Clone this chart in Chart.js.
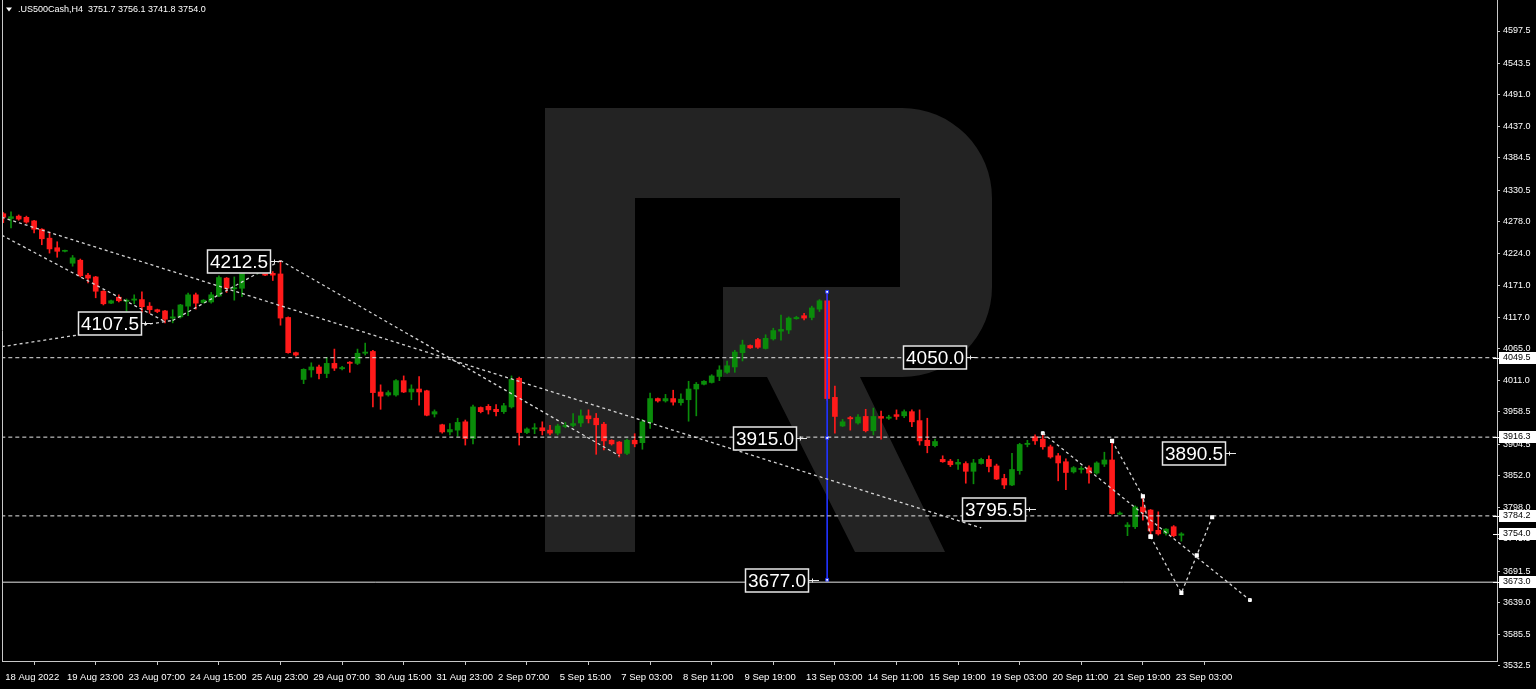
<!DOCTYPE html>
<html>
<head>
<meta charset="utf-8">
<title>.US500Cash,H4</title>
<script src="https://cdn.jsdelivr.net/npm/chart.js@4.4.0/dist/chart.umd.min.js"></script>
<style>
  html, body { margin: 0; padding: 0; background: #000; }
  #wrap { width: 1536px; height: 689px; }
  canvas { display: block; }
</style>
</head>
<body>
<div id="wrap"><canvas id="chart" width="1536" height="689"></canvas></div>
<script>
const headerText = '.US500Cash,H4  3751.7 3756.1 3741.8 3754.0';

// H4 candles, 18 Aug 2022 .. 23 Sep 2022
const opens = [
  4291, 4283, 4287, 4285, 4279, 4265, 4250, 4234, 4228, 4208,
  4213, 4188, 4185, 4161, 4141, 4151, 4144, 4146, 4147, 4136,
  4130, 4128, 4116, 4118, 4136, 4155, 4142, 4143, 4153, 4183,
  4165, 4166, 4201, 4193, 4198, 4191, 4190, 4117, 4058, 4013,
  4029, 4034, 4023, 4040, 4031, 4042, 4040, 4057, 4060, 3992,
  3987, 3987, 4011, 3992, 3997, 3994, 3955, 3937, 3925, 3928,
  3942, 3914, 3966, 3968, 3963, 3959, 3967, 4015, 3924, 3930,
  3932, 3928, 3923, 3934, 3936, 3940, 3952, 3948, 3938, 3911,
  3908, 3889, 3911, 3907, 3941, 3981, 3977, 3981, 3974, 3979,
  3997, 4005, 4008, 4018, 4025, 4034, 4058, 4070, 4080, 4065,
  4081, 4094, 4096, 4115, 4120, 4117, 4131, 4145, 3983, 3935,
  3949, 3940, 3951, 3927, 3951, 3948, 3954, 3952, 3959, 3944,
  3911, 3902, 3879, 3876, 3871, 3872, 3859, 3872, 3879, 3868,
  3847, 3836, 3860, 3904, 3917, 3913, 3900, 3885, 3875, 3858,
  3862, 3865, 3856, 3871, 3878, 3787, 3766, 3766, 3799, 3794,
  3760, 3755, 3766, 3751.7
];
const highs = [
  4293, 4294, 4289, 4287, 4280, 4266, 4260, 4244, 4230, 4221,
  4215, 4191, 4186, 4162, 4146, 4155, 4148, 4155, 4160, 4142,
  4131, 4129, 4130, 4139, 4158, 4158, 4147, 4159, 4187, 4184,
  4185, 4202, 4203, 4201, 4200, 4194, 4212.5, 4118, 4059, 4031,
  4041, 4037, 4050, 4064, 4035, 4043, 4064, 4074, 4062, 4004,
  3994, 4013, 4019, 4004, 4018, 3995, 3962, 3938, 3939, 3948,
  3945, 3970, 3967, 3971, 3971, 3973, 4019, 4017, 3932, 3939,
  3942, 3936, 3938, 3941, 3956, 3962, 3962, 3956, 3941, 3912,
  3909, 3913, 3922, 3946, 3990, 3982, 3988, 3995, 3989, 4010,
  4008, 4011, 4021, 4036, 4044, 4062, 4079, 4071, 4082, 4088,
  4099, 4121, 4118, 4119, 4124, 4136, 4147, 4160, 4002, 3946,
  3951, 3954, 3963, 3965, 3960, 3953, 3962, 3962, 3962, 3962,
  3948, 3913, 3885, 3879, 3879, 3875, 3879, 3881, 3885, 3871,
  3854, 3889, 3906, 3911, 3920, 3923, 3903, 3889, 3880, 3867,
  3867, 3868, 3875, 3891, 3910, 3791, 3773, 3801, 3817, 3795,
  3791, 3763, 3768, 3756.1
];
const lows = [
  4276, 4267, 4280, 4275, 4259, 4239, 4225, 4218, 4227, 4203,
  4185, 4175, 4150, 4138, 4140, 4143, 4120, 4140, 4126, 4124,
  4125, 4108, 4108, 4116, 4120, 4131, 4141, 4141, 4152, 4159,
  4146, 4152, 4191, 4190, 4187, 4179, 4104, 4057, 4052, 4006,
  4017, 4014, 4016, 4028, 4029, 4025, 4038, 4054, 3967, 3963,
  3985, 3985, 3991, 3979, 3970, 3952, 3950, 3923, 3920, 3918,
  3903, 3905, 3957, 3955, 3952, 3956, 3965, 3903, 3922, 3922,
  3920, 3920, 3920, 3932, 3934, 3934, 3940, 3887.5, 3895, 3903,
  3883, 3887, 3900, 3896, 3931, 3975, 3975, 3970, 3970, 3943,
  3952, 4004, 4007, 4011, 4023, 4025, 4044, 4065, 4065, 4064,
  4079, 4079, 4090, 4114, 4113, 4113, 4127, 3978, 3923, 3934,
  3928, 3938, 3925, 3920, 3913, 3946, 3946, 3949, 3934, 3903,
  3890, 3900, 3874, 3867, 3862, 3839, 3838, 3871, 3858, 3845,
  3830, 3835, 3854, 3900, 3904, 3896, 3881, 3843, 3828, 3856,
  3856, 3839, 3854, 3867, 3787, 3786, 3751, 3763, 3777, 3749.5,
  3752, 3752, 3749, 3741.8
];
const closes = [
  4285, 4286, 4282, 4277, 4265, 4249, 4232, 4228, 4229, 4217,
  4187, 4183, 4161, 4140, 4145, 4145, 4146, 4148, 4135, 4130,
  4127, 4114, 4118, 4138, 4155, 4141, 4146, 4155, 4184, 4166,
  4167, 4199, 4193, 4199, 4188, 4188, 4116, 4058, 4054, 4030,
  4034, 4023, 4040, 4032, 4033, 4040, 4057, 4059, 3991, 3985,
  3991, 4011, 3992, 3997, 3992, 3953, 3959, 3925, 3929, 3941,
  3914, 3967, 3959, 3962, 3959, 3969, 4013, 3924, 3930, 3932,
  3927, 3923, 3935, 3936, 3939, 3952, 3947, 3937, 3910, 3905,
  3889, 3911, 3905, 3942, 3981, 3977, 3981, 3975, 3980, 3997,
  4005, 4010, 4019, 4029, 4036, 4059, 4071, 4066, 4067, 4082,
  4095, 4097, 4116, 4117, 4116, 4133, 4145, 3981, 3951, 3942,
  3947, 3950, 3927, 3951, 3948, 3950, 3951, 3959, 3942, 3910,
  3902, 3909, 3875, 3870, 3874, 3859, 3873, 3879, 3867, 3846,
  3836, 3862, 3904, 3906, 3910, 3900, 3883, 3873, 3857, 3865,
  3864, 3856, 3873, 3878, 3788, 3789, 3769, 3799, 3791, 3759,
  3754, 3762, 3751, 3754.0
];

const timeTicks = [0, 8, 16, 24, 32, 40, 48, 56, 64, 72, 80, 88, 96, 104, 112, 120, 128, 136, 144, 152];
const timeLabels = [
  '18 Aug 2022', '19 Aug 23:00', '23 Aug 07:00', '24 Aug 15:00', '25 Aug 23:00',
  '29 Aug 07:00', '30 Aug 15:00', '31 Aug 23:00', '2 Sep 07:00', '5 Sep 15:00',
  '7 Sep 03:00', '8 Sep 11:00', '9 Sep 19:00', '13 Sep 03:00', '14 Sep 11:00',
  '15 Sep 19:00', '19 Sep 03:00', '20 Sep 11:00', '21 Sep 19:00', '23 Sep 03:00'
];
const priceTicks = [
  4597.5, 4543.5, 4491.0, 4437.0, 4384.5, 4330.5, 4278.0, 4224.0, 4171.0, 4117.0,
  4065.0, 4011.0, 3958.5, 3904.5, 3852.0, 3798.0, 3745.5, 3691.5, 3639.0, 3585.5, 3532.5
];

// horizontal levels
const dashedLevels = [4049.5, 3916.3, 3784.2];
const solidLevel = 3673.0;
const axisMarks = [4049.5, 3916.3, 3784.2, 3754.0, 3673.0];

// dotted trend lines: [barIndex, price] pairs
const trendLines = [
  [[-0.2, 4285], [127, 3764]],
  [[-0.2, 4255], [21, 4110]],
  [[-0.2, 4068], [22, 4112]],
  [[22, 4112], [36, 4212.5]],
  [[36, 4212.5], [80, 3885]],
  [[135, 3923], [161.9, 3643]]
];
const swingPath = [[144, 3910], [148, 3817], [149, 3749.5]];
const forecastPath = [[149, 3749.5], [153, 3655], [155, 3718], [157, 3782]];
const swingMarks = [[135, 3923], [161.9, 3643]];
const blueRange = [[107, 4160], [107, 3915], [107, 3677]];

const priceNotes = [
  { text: '4212.5', bar: 36, price: 4212.5 },
  { text: '4107.5', bar: 19.3, price: 4107.5 },
  { text: '4050.0', bar: 126.5, price: 4050.0 },
  { text: '3915.0', bar: 104.4, price: 3915.0 },
  { text: '3890.5', bar: 160.1, price: 3890.5 },
  { text: '3795.5', bar: 134.1, price: 3795.5 },
  { text: '3677.0', bar: 106, price: 3677.0 }
];

const UP = '#0a8c0a';
const DOWN = '#ff1a1a';
const GRID = '#c8c8c8';
const FONT = 'Liberation Sans';

const idx = opens.map((_, i) => i);
const candleColor = idx.map(i => closes[i] >= opens[i] ? UP : DOWN);
const bodies = idx.map(i => ({ x: i, y: [opens[i], closes[i]] }));
const wicks = idx.map(i => ({ x: i, y: [lows[i], highs[i]] }));

const xMin = -0.17, xMax = 193.99;
const yMin = 3540.8, yMax = 4649.5;

function pts(list) { return list.map(p => ({ x: p[0], y: p[1] })); }
function noPad(s) { s.paddingTop = 0; s.paddingBottom = 0; s.paddingLeft = 0; s.paddingRight = 0; }

const datasets = [
  {
    type: 'bar', data: bodies, backgroundColor: candleColor, borderWidth: 0,
    barThickness: 5, minBarLength: 1, grouped: false, order: 1
  },
  {
    type: 'bar', data: wicks, backgroundColor: candleColor, borderWidth: 0,
    barThickness: 1, minBarLength: 1, grouped: false, order: 2
  }
];
dashedLevels.forEach(v => datasets.push({
  type: 'line', data: [{ x: xMin - 1, y: v }, { x: xMax + 1, y: v }],
  borderColor: '#e6e6e6', borderWidth: 1, borderDash: [4, 3], pointRadius: 0, order: 0
}));
datasets.push({
  type: 'line', data: [{ x: xMin - 1, y: solidLevel }, { x: xMax + 1, y: solidLevel }],
  borderColor: '#e6e6e6', borderWidth: 1, pointRadius: 0, order: 0
});
trendLines.forEach(l => datasets.push({
  type: 'line', data: pts(l), borderColor: '#d4d4d4', borderWidth: 1.3,
  borderDash: [3, 3], pointRadius: 0, order: 0
}));
[swingPath, forecastPath].forEach(l => datasets.push({
  type: 'line', data: pts(l), borderColor: '#d4d4d4', borderWidth: 1.3,
  borderDash: [3, 3], pointRadius: 2, pointStyle: 'rect',
  pointBackgroundColor: '#ffffff', pointBorderColor: '#ffffff', order: 0
}));
datasets.push({
  type: 'line', data: pts(swingMarks), showLine: false, pointRadius: 2, pointStyle: 'rect',
  pointBackgroundColor: '#ffffff', pointBorderColor: '#ffffff', order: 0
});
datasets.push({
  type: 'line', data: pts(blueRange), borderColor: '#2233ff', borderWidth: 1,
  pointRadius: 2, pointStyle: 'rect', pointBackgroundColor: '#ffffff',
  pointBorderColor: '#2233ff', order: 0
});

const decor = {
  id: 'decor',
  beforeDatasetsDraw(chart) {
    // broker watermark
    const ctx = chart.ctx;
    ctx.save();
    ctx.fillStyle = '#232323';
    ctx.beginPath();
    ctx.rect(545, 108, 90, 444);
    ctx.moveTo(635, 108);
    ctx.lineTo(902, 108);
    ctx.arcTo(992, 108, 992, 200, 90);
    ctx.lineTo(992, 287);
    ctx.arcTo(992, 377, 902, 377, 90);
    ctx.lineTo(723, 377);
    ctx.lineTo(723, 287);
    ctx.lineTo(900, 287);
    ctx.lineTo(900, 198);
    ctx.lineTo(635, 198);
    ctx.closePath();
    ctx.moveTo(767, 377);
    ctx.lineTo(860, 377);
    ctx.lineTo(945, 552);
    ctx.lineTo(855, 552);
    ctx.closePath();
    ctx.fill();
    ctx.restore();
  },
  afterDatasetsDraw(chart) {
    const ctx = chart.ctx, xs = chart.scales.x, ys = chart.scales.y;
    const a = chart.chartArea;
    ctx.save();
    ctx.strokeStyle = GRID;
    ctx.lineWidth = 1;
    ctx.beginPath();
    ctx.moveTo(a.left + 0.5, a.top);
    ctx.lineTo(a.left + 0.5, a.bottom);
    ctx.stroke();
    ctx.font = '19px ' + FONT;
    ctx.textBaseline = 'middle';
    priceNotes.forEach(n => {
      const px = xs.getPixelForValue(n.bar);
      const py = Math.round(ys.getPixelForValue(n.price)) + 0.5;
      const w = Math.ceil(ctx.measureText(n.text).width) + 5;
      const right = Math.round(px) - 10;
      ctx.fillStyle = '#000';
      ctx.fillRect(right - w, py - 12, w, 24);
      ctx.strokeStyle = '#e8e8e8';
      ctx.lineWidth = 1.5;
      ctx.strokeRect(right - w + 0.5, py - 11.5, w - 1, 23);
      ctx.fillStyle = '#ffffff';
      ctx.textAlign = 'left';
      ctx.fillText(n.text, right - w + 3, py + 1);
      ctx.lineWidth = 1;
      ctx.beginPath();
      ctx.moveTo(right, py);
      ctx.lineTo(right + 10, py);
      ctx.moveTo(right + 3.5, py - 2);
      ctx.lineTo(right + 3.5, py + 2);
      ctx.stroke();
    });
    ctx.restore();
  },
  afterDraw(chart) {
    const ctx = chart.ctx, ys = chart.scales.y;
    const a = chart.chartArea;
    ctx.save();
    ctx.font = '9px ' + FONT;
    ctx.textBaseline = 'middle';
    axisMarks.forEach(v => {
      const py = Math.round(ys.getPixelForValue(v));
      ctx.fillStyle = '#ffffff';
      ctx.fillRect(a.right + 2, py - 6, 1536 - a.right - 2, 12);
      ctx.fillRect(a.right - 4, py, 6, 1);
      ctx.fillStyle = '#000';
      ctx.textAlign = 'left';
      ctx.fillText(v.toFixed(1), a.right + 6, py);
    });
    ctx.fillStyle = '#ffffff';
    ctx.font = '9px ' + FONT;
    ctx.fillText(headerText, 18, 10);
    ctx.beginPath();
    ctx.moveTo(6, 7.5);
    ctx.lineTo(12, 7.5);
    ctx.lineTo(9, 11.5);
    ctx.closePath();
    ctx.fill();
    ctx.restore();
  }
};

new Chart(document.getElementById('chart').getContext('2d'), {
  type: 'bar',
  data: { datasets: datasets },
  plugins: [decor],
  options: {
    responsive: false,
    animation: false,
    events: [],
    layout: { autoPadding: false, padding: { left: 2, top: 0, right: 0, bottom: 0 } },
    plugins: { legend: { display: false }, tooltip: { enabled: false } },
    scales: {
      x: {
        type: 'linear', min: xMin, max: xMax, offset: false,
        afterBuildTicks: s => { s.ticks = timeTicks.map(v => ({ value: v })); },
        afterFit: s => { s.height = 28; noPad(s); },
        ticks: {
          color: '#ffffff', font: { family: FONT, size: 9.5 }, align: 'start',
          maxRotation: 0, autoSkip: false, padding: 7, labelOffset: 2,
          callback: (v, i) => timeLabels[i]
        },
        grid: { drawOnChartArea: false, drawTicks: true, tickLength: 4, color: GRID },
        border: { display: true, color: GRID }
      },
      y: {
        type: 'linear', position: 'right', min: yMin, max: yMax,
        afterBuildTicks: s => { s.ticks = priceTicks.map(v => ({ value: v })); },
        afterFit: s => { s.width = 39; noPad(s); },
        ticks: {
          color: '#ffffff', font: { family: FONT, size: 9 }, autoSkip: false, padding: 3,
          callback: v => v.toFixed(1)
        },
        grid: { drawOnChartArea: false, drawTicks: true, tickLength: 3, color: GRID },
        border: { display: true, color: GRID }
      }
    }
  }
});
</script>
</body>
</html>
